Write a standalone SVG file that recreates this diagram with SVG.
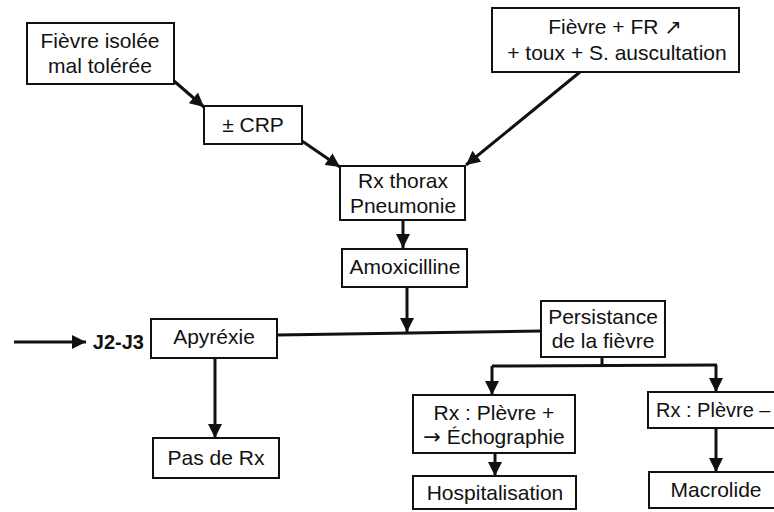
<svg xmlns="http://www.w3.org/2000/svg" width="774" height="512" viewBox="0 0 774 512">
<style>
.box{fill:#fff;stroke:#111;stroke-width:2}
.t{font-family:"Liberation Sans",Arial,sans-serif;font-size:21px;fill:#111;text-anchor:middle}
.b{font-weight:bold;text-anchor:end;font-size:20px}
.ar{font-family:"DejaVu Sans",sans-serif;font-size:21px}
.c{fill:none;stroke:#111;stroke-width:3}
</style>
<defs>
<marker id="ah" viewBox="0 0 12 12" refX="12" refY="6" markerWidth="14" markerHeight="14" markerUnits="userSpaceOnUse" orient="auto">
<path d="M0,0 L12,6 L0,12 z" fill="#111"/>
</marker>
</defs>
<rect width="774" height="512" fill="#fff"/>
<g id="connectors">
<line class="c" x1="174" y1="81" x2="204" y2="107" marker-end="url(#ah)"/>
<line class="c" x1="302" y1="141" x2="340" y2="167" marker-end="url(#ah)"/>
<line class="c" x1="580" y1="72" x2="466" y2="165" marker-end="url(#ah)"/>
<line class="c" x1="403" y1="220" x2="403" y2="248" marker-end="url(#ah)"/>
<line class="c" x1="407" y1="287" x2="407" y2="332" marker-end="url(#ah)"/>
<line class="c" x1="277" y1="335" x2="542" y2="331"/>
<line class="c" x1="14" y1="342" x2="86" y2="342" marker-end="url(#ah)"/>
<line class="c" x1="215" y1="358" x2="215" y2="438" marker-end="url(#ah)"/>
<polyline class="c" points="602,357 602,366"/>
<line class="c" x1="492" y1="366" x2="717" y2="365"/>
<line class="c" x1="492" y1="366" x2="492" y2="395" marker-end="url(#ah)"/>
<line class="c" x1="716" y1="365" x2="716" y2="392" marker-end="url(#ah)"/>
<line class="c" x1="495" y1="453" x2="495" y2="476" marker-end="url(#ah)"/>
<line class="c" x1="716" y1="428" x2="716" y2="472" marker-end="url(#ah)"/>
</g>
<g id="n-fievre-isolee">
<rect class="box" x="27" y="23" width="147" height="61"/>
<text class="t" x="100" y="48">Fièvre isolée</text>
<text class="t" x="100" y="73">mal tolérée</text>
</g>
<g id="n-crp">
<rect class="box" x="204" y="106" width="98" height="38"/>
<text class="t" x="253" y="132">± CRP</text>
</g>
<g id="n-fievre-fr">
<rect class="box" x="492" y="8" width="247" height="64"/>
<text class="t" x="615" y="34">Fièvre + FR <tspan class="ar">↗</tspan></text>
<text class="t" x="617" y="60">+ toux + S. auscultation</text>
</g>
<g id="n-rx-thorax">
<rect class="box" x="340" y="166" width="125" height="54"/>
<text class="t" x="403" y="188">Rx thorax</text>
<text class="t" x="403" y="213">Pneumonie</text>
</g>
<g id="n-amox">
<rect class="box" x="342" y="249" width="125" height="38"/>
<text class="t" x="405" y="274">Amoxicilline</text>
</g>
<g id="n-j2j3">
<text class="t b" x="144" y="349">J2-J3</text>
</g>
<g id="n-apyrexie">
<rect class="box" x="151" y="319" width="126" height="39"/>
<text class="t" x="214" y="344">Apyréxie</text>
</g>
<g id="n-pas-de-rx">
<rect class="box" x="153" y="438" width="126" height="40"/>
<text class="t" x="216" y="465">Pas de Rx</text>
</g>
<g id="n-persistance">
<rect class="box" x="541" y="301" width="124" height="56"/>
<text class="t" x="603" y="324">Persistance</text>
<text class="t" x="603" y="348">de la fièvre</text>
</g>
<g id="n-plevre-plus">
<rect class="box" x="413" y="395" width="162" height="58"/>
<text class="t" x="494" y="420">Rx : Plèvre +</text>
<text class="t" x="494" y="444"><tspan class="ar">→</tspan> Échographie</text>
</g>
<g id="n-hospitalisation">
<rect class="box" x="413" y="476" width="163" height="33"/>
<text class="t" x="495" y="500">Hospitalisation</text>
</g>
<g id="n-plevre-moins">
<rect class="box" x="648" y="392" width="142" height="36"/>
<text class="t" x="656" y="417" style="text-anchor:start;font-size:20px">Rx : Plèvre –</text>
</g>
<g id="n-macrolide">
<rect class="box" x="649" y="472" width="140" height="36"/>
<text class="t" x="716" y="497">Macrolide</text>
</g>
</svg>
